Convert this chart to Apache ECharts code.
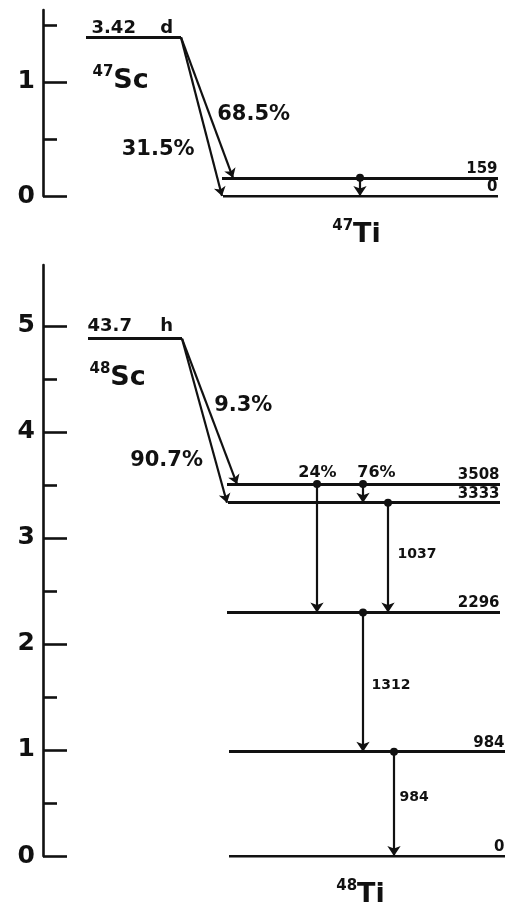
<!DOCTYPE html>
<html><head><meta charset="utf-8">
<script src="https://cdn.jsdelivr.net/npm/echarts@6/dist/echarts.min.js"></script>
<style>html,body{margin:0;padding:0;background:#fff}#c{width:505px;height:907px}</style>
</head><body><div id="c"></div>
<script>
// ================= DATA =================
// 47Sc -> 47Ti
const sc47HalfLife = ['3.42', 'd'];
const sc47Parent = { mass: '47', element: 'Sc', energy: 1.39 };      // MeV (drawn level)
const ti47Daughter = { mass: '47', element: 'Ti' };
const ti47LevelEnergies = [0.159, 0];                                // MeV
const ti47LevelLabels = ['159', '0'];                                // keV
const sc47BetaLabels = ['68.5%', '31.5%'];                           // to 159, to 0
const sc47BetaTargets = [0, 1];
const ti47GammaFrom = [0];
const ti47GammaTo = [1];
const ti47GammaLabels = [''];
const ti47GammaBranch = [''];

// 48Sc -> 48Ti
const sc48HalfLife = ['43.7', 'h'];
const sc48Parent = { mass: '48', element: 'Sc', energy: 4.88 };
const ti48Daughter = { mass: '48', element: 'Ti' };
const ti48LevelEnergies = [3.508, 3.333, 2.296, 0.984, 0];
const ti48LevelLabels = ['3508', '3333', '2296', '984', '0'];
const sc48BetaLabels = ['9.3%', '90.7%'];                            // to 3508, to 3333
const sc48BetaTargets = [0, 1];
const ti48GammaFrom = [0, 0, 1, 2, 3];
const ti48GammaTo = [2, 1, 2, 3, 4];
const ti48GammaLabels = ['', '', '1037', '1312', '984'];
const ti48GammaBranch = ['24%', '76%', '', '', ''];

// axis ticks (MeV)
const topMajorTicks = [0, 1];
const topMinorTicks = [0.5, 1.5];
const topAxisMax = 1.63;
const botMajorTicks = [0, 1, 2, 3, 4, 5];
const botMinorTicks = [0.5, 1.5, 2.5, 3.5, 4.5];
const botAxisMax = 5.575;

// ================= LAYOUT (px, horizontal schematic positions) =================
const INK = '#111';
const FONT = "'DejaVu Sans', sans-serif";
const panels = [
  {
    grid: { left: 43, top: 10, width: 462, height: 186 },
    axisMax: topAxisMax, major: topMajorTicks, minor: topMinorTicks,
    halfLife: sc47HalfLife, parent: sc47Parent, daughter: ti47Daughter,
    levels: ti47LevelEnergies, levelLabels: ti47LevelLabels,
    betaLabels: sc47BetaLabels, betaTargets: sc47BetaTargets,
    gFrom: ti47GammaFrom, gTo: ti47GammaTo, gLabels: ti47GammaLabels, gBranch: ti47GammaBranch,
    L: {
      parentX: [43, 138], levelStart: [179, 180], levelEnd: [455, 455],
      betaEndX: [190, 179],
      betaText: [{ t: 0.553, dx: 8, align: 'left' }, { t: 0.71, dx: -15, align: 'right' }],
      gammaX: [317], gLabelOff: [[0, 0]], gBranchOff: [[0, 0]],
      halfLifeOff: [6, -9], parentOff: [7, 43], daughterOff: [134, 38],
      halfGap: 18
    }
  },
  {
    grid: { left: 43, top: 265, width: 462, height: 591 },
    axisMax: botAxisMax, major: botMajorTicks, minor: botMinorTicks,
    halfLife: sc48HalfLife, parent: sc48Parent, daughter: ti48Daughter,
    levels: ti48LevelEnergies, levelLabels: ti48LevelLabels,
    betaLabels: sc48BetaLabels, betaTargets: sc48BetaTargets,
    gFrom: ti48GammaFrom, gTo: ti48GammaTo, gLabels: ti48GammaLabels, gBranch: ti48GammaBranch,
    L: {
      parentX: [45, 139], levelStart: [184, 185, 184, 186, 186], levelEnd: [457, 457, 457, 462, 462],
      betaEndX: [194, 184],
      betaText: [{ t: 0.466, dx: 7, align: 'left' }, { t: 0.744, dx: -12, align: 'right' }],
      gammaX: [274, 320, 345, 320, 351],
      gLabelOff: [[0, 0], [0, 0], [10, -3], [9, 4], [6, -6]],
      gBranchOff: [[1, -3], [14, -3], [0, 0], [0, 0], [0, 0]],
      halfLifeOff: [0, -11.5], parentOff: [2, 38], daughterOff: [132, 38],
      halfGap: 22
    }
  }
];

const nuclideRich = {
  sup: { fontSize: 15, fontWeight: 'bold', fontFamily: FONT, color: INK, lineHeight: 12, verticalAlign: 'top' },
  el: { fontSize: 27, fontWeight: 'bold', fontFamily: FONT, color: INK, lineHeight: 30, verticalAlign: 'bottom' }
};

function textItem(x, y, text, pos, align, va, style) {
  return {
    value: [x, y],
    label: Object.assign({
      show: true, formatter: text, position: pos, align: align, verticalAlign: va,
      color: INK, fontFamily: FONT, opacity: 1
    }, style)
  };
}

const grids = [], xAxes = [], yAxes = [], series = [];

panels.forEach((p, gi) => {
  const L = p.L;
  grids.push(p.grid);
  xAxes.push({ type: 'value', gridIndex: gi, min: 0, max: p.grid.width, show: false });
  yAxes.push({
    type: 'value', gridIndex: gi, min: 0, max: p.axisMax, position: 'left',
    axisLine: { show: true, onZero: false, lineStyle: { color: INK, width: 2.6 } },
    axisTick: { show: true, inside: true, length: 24, customValues: p.major, lineStyle: { color: INK, width: 2.6 } },
    axisLabel: { show: true, customValues: p.major, margin: 8, fontSize: 25, fontWeight: 'bold', fontFamily: FONT, color: INK,
      formatter: v => String(v) },
    splitLine: { show: false }
  });
  yAxes.push({
    type: 'value', gridIndex: gi, min: 0, max: p.axisMax, position: 'left',
    axisLine: { show: false, onZero: false },
    axisTick: { show: true, inside: true, length: 14, customValues: p.minor, lineStyle: { color: INK, width: 2.6 } },
    axisLabel: { show: false },
    splitLine: { show: false }
  });
  const yi = gi * 2;
  const common = { coordinateSystem: 'cartesian2d', xAxisIndex: gi, yAxisIndex: yi, silent: true, animation: false };

  // level lines (parent + daughter levels)
  const levelData = [{ coords: [[L.parentX[0], p.parent.energy], [L.parentX[1], p.parent.energy]] }];
  p.levels.forEach((E, i) => levelData.push({ coords: [[L.levelStart[i], E], [L.levelEnd[i], E]] }));
  series.push(Object.assign({ type: 'lines', symbol: 'none', lineStyle: { color: INK, width: 3, opacity: 1 }, data: levelData }, common));

  // beta arrows
  const betaData = p.betaTargets.map((li, k) => ({
    coords: [[L.parentX[1], p.parent.energy], [L.betaEndX[k], p.levels[li]]]
  }));
  series.push(Object.assign({ type: 'lines', symbol: ['none', 'arrow'], symbolSize: 9,
    lineStyle: { color: INK, width: 2.2, opacity: 1 }, itemStyle: { color: INK, opacity: 1 }, data: betaData }, common));

  // gamma arrows
  const gammaData = p.gFrom.map((f, k) => ({
    coords: [[L.gammaX[k], p.levels[f]], [L.gammaX[k], p.levels[p.gTo[k]]]]
  }));
  series.push(Object.assign({ type: 'lines', symbol: ['none', 'arrow'], symbolSize: 10,
    lineStyle: { color: INK, width: 2.2, opacity: 1 }, itemStyle: { color: INK, opacity: 1 }, data: gammaData }, common));

  // gamma start dots
  series.push(Object.assign({ type: 'scatter', symbol: 'circle', symbolSize: 8, itemStyle: { color: INK, opacity: 1 },
    data: p.gFrom.map((f, k) => [L.gammaX[k], p.levels[f]]) }, common));

  // texts
  const texts = [];
  p.levels.forEach((E, i) => texts.push(textItem(L.levelEnd[i], E, p.levelLabels[i], [0, -1], 'right', 'bottom',
    { fontSize: 15, fontWeight: 'bold' })));
  texts.push(textItem(L.parentX[0], p.parent.energy,
    '{n|' + p.halfLife[0] + ' }{u|' + p.halfLife[1] + '}', L.halfLifeOff, 'left', 'middle',
    { rich: { n: { fontSize: 18, fontWeight: 'bold', fontFamily: FONT, color: INK },
              u: { fontSize: 18, fontWeight: 'bold', fontFamily: FONT, color: INK, padding: [0, 0, 0, L.halfGap] } } }));
  texts.push(textItem(L.parentX[0], p.parent.energy,
    '{sup|' + p.parent.mass + '}{el|' + p.parent.element + '}', L.parentOff, 'left', 'middle', { rich: nuclideRich }));
  texts.push(textItem(L.levelStart[p.levels.length - 1], 0,
    '{sup|' + p.daughter.mass + '}{el|' + p.daughter.element + '}', L.daughterOff, 'center', 'middle', { rich: nuclideRich }));
  p.betaTargets.forEach((li, k) => {
    const bt = L.betaText[k];
    const x = L.parentX[1] + bt.t * (L.betaEndX[k] - L.parentX[1]);
    const E = p.parent.energy + bt.t * (p.levels[li] - p.parent.energy);
    texts.push(textItem(x, E, p.betaLabels[k], [bt.dx, 0], bt.align, 'middle', { fontSize: 21, fontWeight: 'bold' }));
  });
  p.gFrom.forEach((f, k) => {
    if (p.gLabels[k]) {
      const Em = (p.levels[f] + p.levels[p.gTo[k]]) / 2;
      texts.push(textItem(L.gammaX[k], Em, p.gLabels[k], L.gLabelOff[k], 'left', 'middle', { fontSize: 14, fontWeight: 'bold' }));
    }
    if (p.gBranch[k]) {
      texts.push(textItem(L.gammaX[k], p.levels[f], p.gBranch[k], L.gBranchOff[k], 'center', 'bottom', { fontSize: 16, fontWeight: 'bold' }));
    }
  });
  series.push(Object.assign({ type: 'scatter', symbolSize: 1, itemStyle: { color: 'rgba(0,0,0,0)', opacity: 1 }, clip: false, data: texts }, common));
});

const chart = echarts.init(document.getElementById('c'));
chart.setOption({
  animation: false,
  backgroundColor: '#fff',
  grid: grids, xAxis: xAxes, yAxis: yAxes, series: series
});
</script>
</body></html>
